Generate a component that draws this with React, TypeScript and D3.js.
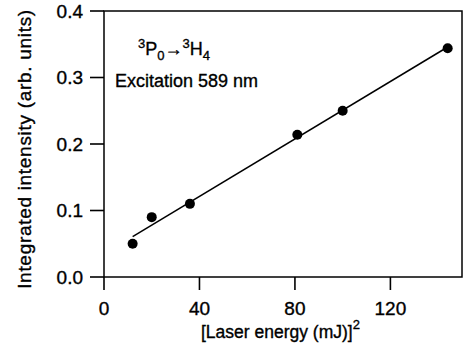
import React from "react";
import * as d3 from "d3";

// Laser energy squared (mJ^2) and integrated emission intensity
const energySq = [12, 20, 36, 81, 100, 144];
const intensity = [0.05, 0.09, 0.11, 0.214, 0.25, 0.344];
const xTicks = [0, 40, 80, 120];
const yTicks = [0, 0.1, 0.2, 0.3, 0.4];

const W = 464;
const H = 351;
const margin = { left: 104, top: 11, right: 2, bottom: 74 };
const FONT = "'Liberation Sans', Arial, Helvetica, sans-serif";
// a hairline outline gives the text a slightly heavier, printed look
const ink = { fill: "#000", stroke: "#000", strokeWidth: 0.35 };

// least-squares straight line through the points
function linearFit(xs: number[], ys: number[]) {
  const mx = d3.mean(xs)!;
  const my = d3.mean(ys)!;
  let sxy = 0;
  let sxx = 0;
  xs.forEach((x, i) => {
    sxy += (x - mx) * (ys[i] - my);
    sxx += (x - mx) * (x - mx);
  });
  const slope = sxy / sxx;
  return { slope, intercept: my - slope * mx };
}

export default function App() {
  const x = d3.scaleLinear().domain([0, 150]).range([margin.left, W - margin.right]);
  const y = d3.scaleLinear().domain([0, 0.4]).range([H - margin.bottom, margin.top]);
  const fit = linearFit(energySq, intensity);
  const x0 = d3.min(energySq)!;
  const x1 = d3.max(energySq)!;
  const fitLine = d3.line<number>()
    .x((d) => x(d))
    .y((d) => y(fit.intercept + fit.slope * d))([x0, x1]);

  const [r0, r1] = x.range();
  const [b, t] = y.range();

  return (
    <svg
      width={W}
      height={H}
      style={{ position: "absolute", left: 0, top: 0, background: "#fff" }}
      fontFamily={FONT}
    >
      {/* frame */}
      <rect x={r0} y={t} width={r1 - r0} height={b - t} fill="none" stroke="#000" strokeWidth={1.5} />

      {/* y axis ticks and labels */}
      {yTicks.map((v) => (
        <g key={"y" + v}>
          <line x1={r0 - 14} x2={r0} y1={y(v)} y2={y(v)} stroke="#000" strokeWidth={1.6} />
          <text x={r0 - 21} y={y(v)} dy="0.36em" textAnchor="end" fontSize={19} {...ink}>
            {d3.format(".1f")(v)}
          </text>
        </g>
      ))}

      {/* x axis ticks and labels */}
      {xTicks.map((v) => (
        <g key={"x" + v}>
          <line x1={x(v)} x2={x(v)} y1={b} y2={b + 13} stroke="#000" strokeWidth={1.6} />
          <text x={x(v)} y={315} textAnchor="middle" fontSize={19} {...ink}>
            {v}
          </text>
        </g>
      ))}

      {/* axis titles */}
      <text
        transform={`translate(31, ${(t + b) / 2 + 5}) rotate(-90)`}
        textAnchor="middle"
        fontSize={19}
        letterSpacing={0.7}
        {...ink}
      >
        Integrated intensity (arb. units)
      </text>
      <text x={201} y={338} fontSize={17.5} {...ink}>
        [Laser energy (mJ)]
        <tspan dy={-9} fontSize={13}>2</tspan>
      </text>

      {/* transition label and excitation wavelength */}
      <text x={138} y={55} fontSize={18} {...ink}>
        <tspan fontSize={13} dy={-7}>3</tspan>
        <tspan dy={7}>P</tspan>
        <tspan fontSize={13} dy={5}>0</tspan>
        <tspan dy={-5}>→</tspan>
        <tspan fontSize={13} dy={-7}>3</tspan>
        <tspan dy={7}>H</tspan>
        <tspan fontSize={13} dy={5}>4</tspan>
      </text>
      <text x={115} y={87} fontSize={18} {...ink}>
        Excitation 589 nm
      </text>

      {/* fitted line */}
      <path d={fitLine ?? ""} fill="none" stroke="#000" strokeWidth={1.5} />

      {/* data points */}
      {energySq.map((e, i) => (
        <circle key={i} cx={x(e)} cy={y(intensity[i])} r={5} fill="#000" />
      ))}
    </svg>
  );
}
